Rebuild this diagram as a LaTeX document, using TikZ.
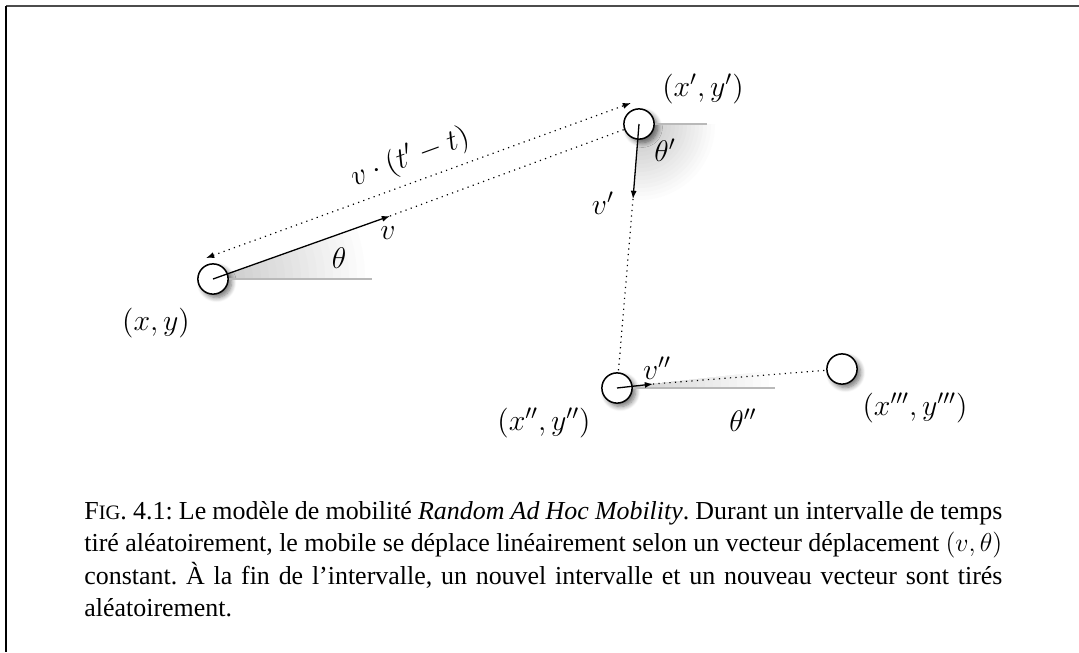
\RequirePackage{fix-cm}
\documentclass[tikz,border=0pt]{standalone}
\usepackage{fontspec}
\setmainfont{Liberation Serif}
\usetikzlibrary{positioning, calc, arrows.meta, shadows.blur}
\frenchspacing

\begin{document}
\begin{tikzpicture}[
        x=0.463pt, y=-0.463pt,
        mobile/.style={circle, draw=black, line width=0.7pt, fill=white, minimum size=14pt, inner sep=0pt,
            blur shadow={shadow xshift=1.6pt, shadow yshift=-1.6pt, shadow blur steps=8, shadow blur radius=2.2pt, shadow opacity=55}},
        lbl/.style={inner sep=1pt, font=\fontsize{13.8}{16}\selectfont},
        vec/.style={-{Latex[length=3.8pt, width=2.8pt]}, line width=0.6pt},
        trace/.style={dotted, line width=0.55pt},
        dist/.style={{Latex[length=3.8pt, width=2.8pt]}-{Latex[length=3.8pt, width=2.8pt]}, dotted, line width=0.55pt},
        refline/.style={draw=gray!55, line width=0.5pt},
        caption/.style={anchor=north west, inner sep=0pt, text width=425pt, align=justify, font=\fontsize{12}{15}\selectfont}
    ]
        \useasboundingbox (0,0) rectangle (1079,652);

        % --- FRAME ---
        \draw[gray!60!black, line width=0.9pt] (6,6) -- (1079,6);
        \draw[black, line width=0.9pt] (6,6) -- (6,652);

        % --- POSITIONS ---
        \coordinate (pA) at (213,279);
        \coordinate (pB) at (639,124);
        \coordinate (pC) at (617,388);
        \coordinate (pD) at (842,369);
        \coordinate (vA) at (390,216);
        \coordinate (vB) at (633,199);
        \coordinate (vC) at (653,384);

        % --- ANGLES (fading fans) ---
        \begin{scope}
            \clip (pA) -- ($(pA)!1.3!(vA)$) -- ($(pA)+(230,0)$) -- cycle;
            \foreach \s in {1,0.95,...,0.04}{
                \pgfmathsetmacro\g{45*(1-\s)}
                \fill[gray!\g] (pA) circle ({160*\s});
            }
        \end{scope}
        \begin{scope}
            \clip (pB) -- ($(pB)+(100,0)$) -- ($(pB)+(100,120)$) -- ($(pB)!1.6!(vB)$) -- cycle;
            \foreach \s in {1,0.95,...,0.04}{
                \pgfmathsetmacro\g{50*(1-\s)}
                \fill[gray!\g] (pB) circle ({80*\s});
            }
        \end{scope}
        \begin{scope}
            \clip (pC) -- ($(pC)!5!(vC)$) -- ($(pC)+(180,0)$) -- cycle;
            \foreach \s in {1,0.95,...,0.04}{
                \pgfmathsetmacro\g{40*(1-\s)}
                \fill[gray!\g] (pC) circle ({160*\s});
            }
        \end{scope}

        % --- MOBILES ---
        \node[mobile] (A) at (pA) {};
        \node[mobile] (B) at (pB) {};
        \node[mobile] (C) at (pC) {};
        \node[mobile] (D) at (pD) {};

        % reference lines
        \coordinate (hA) at (372,279);
        \coordinate (hB) at (707,124);
        \coordinate (hC) at (775,388);
        \draw[refline] (A.east) -- (hA);
        \draw[refline] (B.east) -- (hB);
        \draw[refline] (C.east) -- (hC);

        % --- MOVES ---
        \draw[trace] (vA) -- (B);
        \draw[trace] (vB) -- (C);
        \draw[trace] (vC) -- (D);
        \draw[vec] (A.center) -- (vA);
        \draw[vec] (B.center) -- (vB);
        \draw[vec] (C.center) -- (vC);

        % distance
        \coordinate (dA) at (206,258);
        \coordinate (dB) at (631,103);
        \draw[dist] (dA) -- (dB) node[lbl, pos=0.5, above=3pt, sloped] (dist) {$v\cdot(t'-t)$};

        % --- LABELS ---
        \node[lbl] (lA) at (156,323) {$(x,y)$};
        \node[lbl] (lB) at (703,89) {$(x',y')$};
        \node[lbl] (lC) at (544,423) {$(x'',y'')$};
        \node[lbl] (lD) at (915,408) {$(x''',y''')$};
        \node[lbl] (tA) at (339,258) {$\theta$};
        \node[lbl] (tB) at (665,150) {$\theta'$};
        \node[lbl] (tC) at (743,420) {$\theta''$};
        \node[lbl] (sA) at (388,233) {$v$};
        \node[lbl] (sB) at (603,203) {$v'$};
        \node[lbl] (sC) at (657,368) {$v''$};

        % --- CAPTION ---
        \node[caption] (cap) at (84,501) {F{\fontsize{9.5}{15}\selectfont IG}. 4.1: Le modèle de mobilité \emph{Random Ad Hoc Mobility}. Durant un intervalle de temps tiré aléatoirement, le mobile se déplace linéairement selon un vecteur déplacement $(v,\theta)$ constant. À la fin de l'intervalle, un nouvel intervalle et un nouveau vecteur sont tirés aléatoirement.};
    \end{tikzpicture}
\end{document}
